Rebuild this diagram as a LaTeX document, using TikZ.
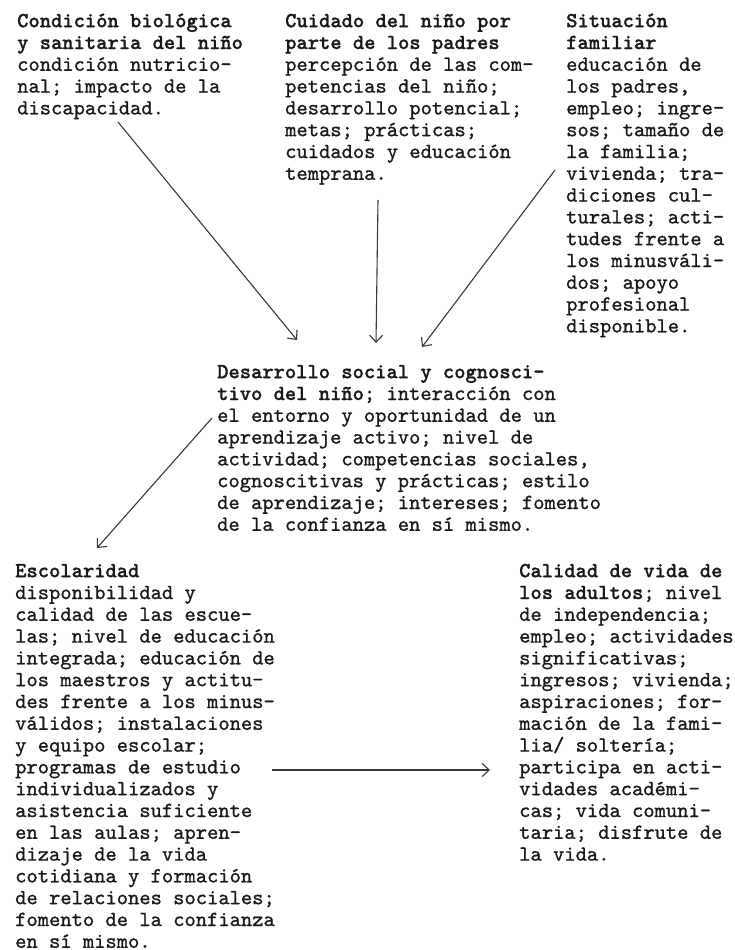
\documentclass[tikz,border=0pt]{standalone}
\usepackage{fontspec}
\setmonofont{lmmono10-regular.otf}[BoldFont=lmmonolt10-bold.otf, RawFeature={embolden=1.0}]
\usetikzlibrary{arrows.meta}
% fixed height for the first line of every block, so that north west sits
% a known distance above the first baseline
\newcommand{\firstline}{\rule{0pt}{17pt}}
\begin{document}
\begin{tikzpicture}[x=1pt,y=-1pt,
  txt/.style={anchor=north west, inner sep=0pt, align=left,
    font=\ttfamily\fontsize{21.5pt}{21.8pt}\selectfont, text=black!90},
  arr/.style={draw=black!78, line width=1.1pt,
    -{Straight Barb[length=7pt,width=13pt]}}]
\useasboundingbox (0,0) rectangle (734,950);

% influences on the child
\node[txt] (bio) at (17,10) {\firstline\textbf{Condición biológica}\\
\textbf{y sanitaria del niño}\\
condición nutricio-\\
nal; impacto de la\\
discapacidad.};

\node[txt] (care) at (285,10) {\firstline\textbf{Cuidado del niño por}\\
\textbf{parte de los padres}\\
percepción de las com-\\
petencias del niño;\\
desarrollo potencial;\\
metas; prácticas;\\
cuidados y educación\\
temprana.};

\node[txt] (fam) at (566,10) {\firstline\textbf{Situación}\\
\textbf{familiar}\\
educación de\\
los padres,\\
empleo; ingre-\\
sos; tamaño de\\
la familia;\\
vivienda; tra-\\
diciones cul-\\
turales; acti-\\
tudes frente a\\
los minusváli-\\
dos; apoyo\\
profesional\\
disponible.};

% development
\node[txt] (dev) at (217,361) {\firstline\textbf{Desarrollo social y cognosci-}\\
\textbf{tivo del niño}; interacción con\\
el entorno y oportunidad de un\\
aprendizaje activo; nivel de\\
actividad; competencias sociales,\\
cognoscitivas y prácticas; estilo\\
de aprendizaje; intereses; fomento\\
de la confianza en sí mismo.};

% outcomes
\node[txt] (school) at (15,560) {\firstline\textbf{Escolaridad}\\
disponibilidad y\\
calidad de las escue-\\
las; nivel de educación\\
integrada; educación de\\
los maestros y actitu-\\
des frente a los minus-\\
válidos; instalaciones\\
y equipo escolar;\\
programas de estudio\\
individualizados y\\
asistencia suficiente\\
en las aulas; apren-\\
dizaje de la vida\\
cotidiana y formación\\
de relaciones sociales;\\
fomento de la confianza\\
en sí mismo.};

\node[txt] (adult) at (519,560) {\firstline\textbf{Calidad de vida de}\\
\textbf{los adultos}; nivel\\
de independencia;\\
empleo; actividades\\
significativas;\\
ingresos; vivienda;\\
aspiraciones; for-\\
mación de la fami-\\
lia/ soltería;\\
participa en acti-\\
vidades académi-\\
cas; vida comuni-\\
taria; disfrute de\\
la vida.};

% connectors
\draw[arr] ([shift={(101,112)}]bio.north west) -- ([shift={(80,-21)}]dev.north west);
\draw[arr] ([shift={(93,190)}]care.north west) -- ([shift={(159,-18)}]dev.north west);
\draw[arr] ([shift={(-11,160)}]fam.north west) -- ([shift={(205,-14)}]dev.north west);
\draw[arr] ([shift={(-5,57)}]dev.north west) -- ([shift={(82,-12)}]school.north west);
\draw[arr] ([shift={(257,210)}]school.north west) -- ([shift={(-29,210)}]adult.north west);
\end{tikzpicture}
\end{document}
